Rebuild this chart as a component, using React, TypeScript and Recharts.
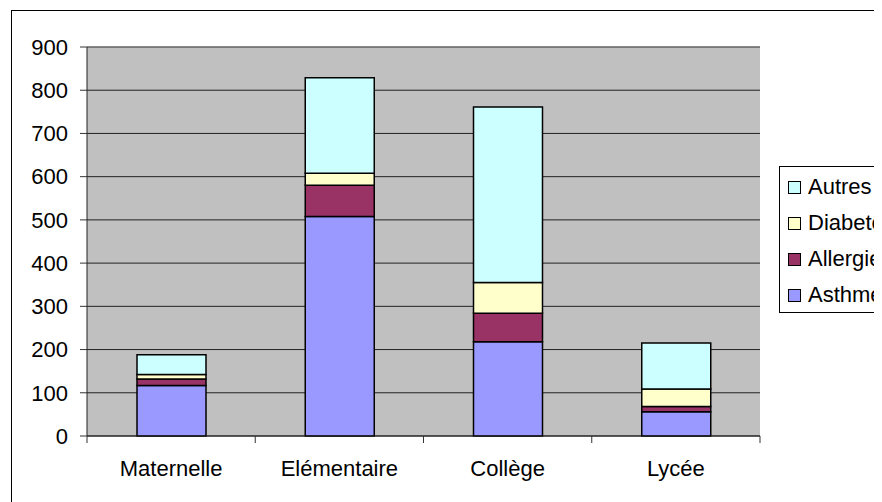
import React from 'react';
import { BarChart, Bar, XAxis, YAxis, CartesianGrid, ReferenceLine } from 'recharts';

const categories = ['Maternelle', 'Elémentaire', 'Collège', 'Lycée'];
const asthme = [117, 508, 218, 56];
const allergies = [15, 72, 66, 12];
const diabete = [10, 28, 71, 41];
const autres = [46, 221, 406, 106];
const yTicks = [0, 100, 200, 300, 400, 500, 600, 700, 800, 900];
const boundaryTicks = [0, 1, 2, 3, 4];

const series = [
  { key: 'asthme', name: 'Asthme', color: '#9999FF', values: asthme },
  { key: 'allergies', name: 'Allergies', color: '#993366', values: allergies },
  { key: 'diabete', name: 'Diabete', color: '#FFFFCC', values: diabete },
  { key: 'autres', name: 'Autres', color: '#CCFFFF', values: autres },
];

const data = categories.map((name, i) => {
  const row: Record<string, string | number> = { name, pos: i + 0.5 };
  series.forEach((s) => {
    row[s.key] = s.values[i];
  });
  return row;
});

const font = '"Liberation Sans", Arial, sans-serif';
const fontSize = 22;

function LegendBox() {
  const items = [...series].reverse();
  return (
    <div
      style={{
        position: 'absolute',
        left: 771,
        top: 158,
        width: 140,
        height: 147,
        border: '1px solid #000',
        background: '#fff',
        boxSizing: 'border-box',
        paddingTop: 2,
        fontFamily: font,
        fontSize,
      }}
    >
      {items.map((s) => (
        <div key={s.key} style={{ height: 36, display: 'flex', alignItems: 'center', paddingLeft: 8 }}>
          <span
            style={{
              width: 13,
              height: 13,
              background: s.color,
              border: '1px solid #000',
              boxSizing: 'border-box',
              marginRight: 7,
              flexShrink: 0,
            }}
          />
          <span style={{ whiteSpace: 'nowrap', color: '#000' }}>{s.name}</span>
        </div>
      ))}
    </div>
  );
}

export default function App() {
  return (
    <div style={{ position: 'relative', width: 874, height: 494, overflow: 'hidden', background: '#fff' }}>
      <div
        style={{
          position: 'absolute',
          left: 3,
          top: 2,
          width: 1000,
          height: 1000,
          border: '1px solid #000',
        }}
      />
      <div style={{ position: 'absolute', left: 0, top: 0 }}>
        <BarChart
          width={874}
          height={494}
          data={data}
          margin={{ top: 39, right: 122, left: 9, bottom: 36 }}
          barSize={69}
          style={{ fontFamily: font }}
        >
          <CartesianGrid vertical={false} fill="#C0C0C0" stroke="#222" strokeWidth={1} />
          {/* numeric helper axis: tick marks at the category boundaries */}
          <XAxis
            xAxisId={0}
            type="number"
            dataKey="pos"
            domain={[0, 4]}
            ticks={boundaryTicks}
            tick={() => <g />}
            tickLine={{ stroke: '#333' }}
            tickSize={7}
            axisLine={{ stroke: '#222' }}
            height={1}
          />
          <XAxis
            xAxisId="cat"
            dataKey="name"
            tickLine={false}
            axisLine={false}
            tick={{ fill: '#000', fontSize, fontFamily: font }}
            tickMargin={17}
            height={29}
            interval={0}
          />
          <YAxis
            domain={[0, 900]}
            ticks={yTicks}
            interval={0}
            width={70}
            tickSize={7}
            tickMargin={12}
            axisLine={{ stroke: '#222' }}
            tickLine={{ stroke: '#333' }}
            tick={{ fill: '#000', fontSize, fontFamily: font }}
          />
          <YAxis
            yAxisId="right"
            orientation="right"
            domain={[0, 900]}
            width={0}
            tick={false}
            tickLine={false}
            axisLine={{ stroke: '#808080' }}
          />
          <ReferenceLine y={900} stroke="#808080" />
          {series.map((s) => (
            <Bar
              key={s.key}
              xAxisId="cat"
              dataKey={s.key}
              name={s.name}
              stackId="a"
              fill={s.color}
              stroke="#000"
              strokeWidth={1.5}
              isAnimationActive={false}
            />
          ))}
        </BarChart>
      </div>
      <LegendBox />
    </div>
  );
}
